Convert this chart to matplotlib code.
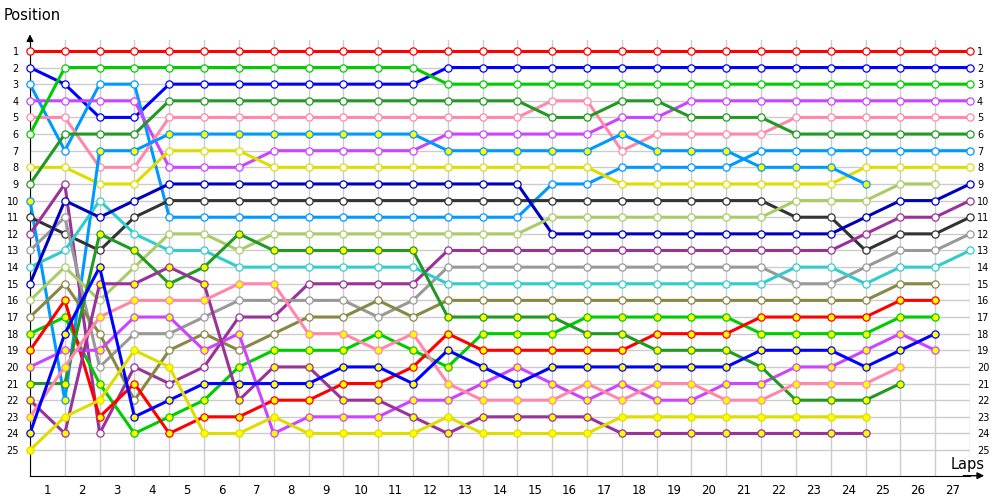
import matplotlib
matplotlib.use("Agg")
import matplotlib.pyplot as plt

# driver colours and marker fill (yellow fill = second class)
colors = {
    'A': '#ff0000', 'B': '#0000ff', 'C': '#0099ff', 'D': '#cc44ff',
    'E': '#ff88aa', 'F': '#00cc00', 'G': '#dddd00', 'H': '#229922',
    'I': '#0099ff', 'J': '#333333', 'K': '#993399', 'L': '#999999',
    'M': '#33cccc', 'N': '#0000bb', 'O': '#aacc66', 'P': '#888844',
    'Q': '#00cc00', 'R': '#ff0000', 'S': '#cc44ff', 'T': '#229922',
    'U': '#993399', 'V': '#ff88aa', 'W': '#0000ff', 'X': '#dddd00',
}
yellow_fill = set('IQRSTUVWX')

# running order after each lap (lap 0 = start), '_' = empty slot
lap_orders = [
    'ABCDEF_GHIJKLMNOPQRSTUVWX',
    'AFBDEHCGKNLJMOPRQWSVTIXU',
    'AFCDBHIEGMNTJWUOVPSLQXRK',
    'AFCDBHIEGNJMTOUVSLXKRPWQ',
    'AFBHEIGDNJCOMUTVSLPXKWQR',
    'AFBHEIGDNJCOMTUVLPSKWQRX',
    'AFBHEIGDNJCTOMVLKSPQWURX',
    'AFBHEIDGNJCOTMVLKPQUWRXS',
    'AFBHEIDGNJCOTMKLPVQUWRSX',
    'AFBHEIDGNJCOTMKLPVQWRUSX',
    'AFBHEIDGNJCOTMKPLQVWRUSX',
    'AFBHEIDGNJCOTMKLPVQRWSUX',
    'ABFHEDIGNJCOKLMPTRWQVSXU',
    'ABFHEDIGNJCOKLMPTQRWSVUX',
    'ABFHEDIGNJCOKLMPTQRSWVUX',
    'ABFEHDIGCJONKLMPTQRWSVUX',
    'ABFEHDIGCJONKLMPQTRWVSUX',
    'ABFHDIECGJONKLMPQTRWSVXU',
    'ABFHDEICGJONKLMPQRTWVSXU',
    'ABFDHEICGJONKLMPQRTWVSXU',
    'ABFDHEICGJONKLMPQRTWSVXU',
    'ABFDHECIGJONKLMPRQWTSVXU',
    'ABFDEHCIGOJNKMLPRQWSVTXU',
    'ABFDEHCIGOJNKMLPRQWSVTXU',
    'ABFDEHCGIONKJLMPRQSWVTXU',
    'ABFDEHCGONKJLMPRQSWVT',
    'ABFDEHCGONKJLMPRQWS',
    'ABFDEHCGNKJLM',
]
laps = list(range(len(lap_orders)))
positions = list(range(1, 26))
lap_labels = [str(i) for i in range(1, 28)]

fig = plt.figure(figsize=(10, 5), dpi=100)
ax = fig.add_axes([0.03, 0.0486, 0.94, 0.871])

for drv, col in colors.items():
    xs, ys = [], []
    for lap, order in zip(laps, lap_orders):
        if drv in order:
            xs.append(lap)
            ys.append(order.index(drv) + 1)
    face = '#ffff00' if drv in yellow_fill else 'white'
    ax.plot(xs, ys, '-o', color=col, lw=2.2, ms=5.2, mfc=face, mec=col,
            mew=0.9, zorder=3, clip_on=False)

ax.set_xlim(0, 27)
ax.set_ylim(26.54, 0.357)
ax.set_xticks([i - 0.5 for i in range(1, 28)])
ax.set_xticklabels(lap_labels, fontsize=8.5)
ax.set_xticks(laps, minor=True)
ax.set_yticks(positions)
ax.set_yticklabels([str(p) for p in positions], fontsize=7)
ax.tick_params(axis='x', which='both', length=0, pad=6)
ax.tick_params(axis='y', length=0, pad=8)
ax.grid(which='minor', axis='x', color='#cccccc', lw=1, zorder=0)
ax.grid(which='major', axis='y', color='#cccccc', lw=1, zorder=0)
ax.set_axisbelow(True)

for s in ['top', 'right']:
    ax.spines[s].set_visible(False)
ax.spines['left'].set_color('black')
ax.spines['bottom'].set_color('black')

# right hand position labels
ax2 = ax.twinx()
ax2.set_ylim(ax.get_ylim())
ax2.set_yticks(positions)
ax2.set_yticklabels([str(p) for p in positions], fontsize=7)
ax2.tick_params(axis='y', length=0, pad=5)
for s in ax2.spines.values():
    s.set_visible(False)

# axis arrows
ax.annotate('', xy=(1.018, 0), xytext=(0.99, 0), xycoords='axes fraction',
            arrowprops=dict(arrowstyle='-|>', color='black', lw=1))
ax.annotate('', xy=(0, 1.02), xytext=(0, 0.99), xycoords='axes fraction',
            arrowprops=dict(arrowstyle='-|>', color='black', lw=1))

fig.text(0.004, 0.97, 'Position', fontsize=10.5, va='center', ha='left')
fig.text(0.985, 0.07, 'Laps', fontsize=10.5, va='center', ha='right')

fig.savefig('out.png', dpi=100)
